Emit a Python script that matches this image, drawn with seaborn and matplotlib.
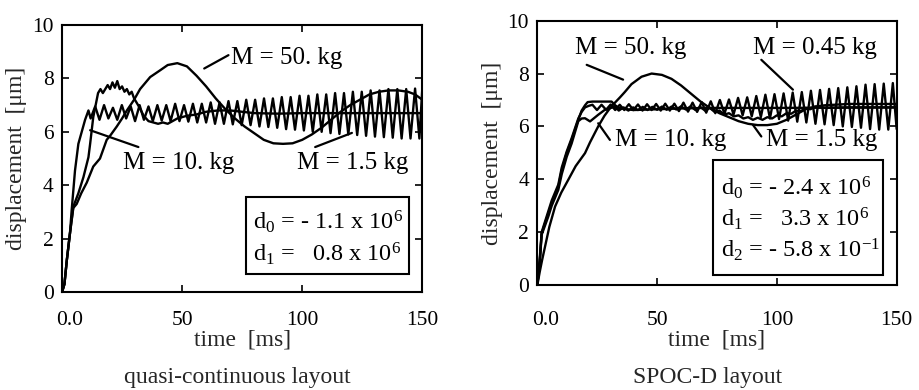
import matplotlib
matplotlib.use("Agg")
import matplotlib.pyplot as plt
import seaborn as sns
import pandas as pd
from matplotlib.patches import Rectangle
from matplotlib.transforms import ScaledTranslation

sns.set_style("ticks")
plt.rcParams['font.family'] = ['Liberation Serif', 'DejaVu Serif']
plt.rcParams['mathtext.fontset'] = 'custom'
plt.rcParams['mathtext.rm'] = 'Liberation Serif'
plt.rcParams['mathtext.it'] = 'Liberation Serif:italic'

# ---- quasi-continuous layout (left panel) ----
t_50_l = [0, 1, 2, 3.3, 4.7, 6.1, 8, 10.3, 13, 15.8, 18.6, 20, 22.8, 25, 27, 30, 32.5, 36.7, 40.8,
          44, 48, 52, 56, 60, 64, 68, 72, 76, 80, 84, 88, 92, 96, 100, 104, 108, 112, 116, 120,
          124, 128, 132, 136, 140, 144, 147, 150]
d_50_l = [0, 0.3, 1.2, 2.2, 3.15, 3.3, 3.7, 4.1, 4.7, 5.0, 5.7, 5.85, 6.2, 6.5, 6.8, 7.2, 7.6, 8.05, 8.3,
          8.5, 8.57, 8.45, 8.1, 7.7, 7.25, 6.85, 6.5, 6.2, 5.95, 5.7, 5.57, 5.55, 5.57, 5.7, 5.9, 6.15, 6.45,
          6.75, 7.0, 7.2, 7.4, 7.5, 7.55, 7.55, 7.5, 7.4, 7.2]

t_10_l = [0, 1, 2, 3.3, 4.7, 6.8, 8.9, 11, 11.7, 13, 14, 15, 16, 17, 18, 19, 20, 21, 22, 23, 24, 25,
          26, 27, 28, 29, 30, 32, 34, 36, 38, 40, 42, 44, 46, 48, 52, 56, 60, 65, 70, 75, 80, 90, 100,
          110, 120, 130, 140, 150]
d_10_l = [0, 0.3, 1.2, 2.2, 3.2, 3.7, 4.3, 5.05, 5.55, 6.55, 7.0, 7.45, 7.6, 7.45, 7.6, 7.75, 7.6, 7.85,
          7.65, 7.9, 7.6, 7.7, 7.5, 7.6, 7.4, 7.5, 7.25, 6.95, 6.6, 6.4, 6.35, 6.3, 6.35, 6.3, 6.4, 6.5,
          6.6, 6.65, 6.75, 6.8, 6.8, 6.75, 6.7, 6.68, 6.7, 6.7, 6.7, 6.7, 6.7, 6.7]

t_15_l = [0, 1, 2, 3.3, 4, 5.4, 6.8, 8.2, 9.6, 11.0,
          11.9, 13.8, 15.6, 17.5, 19.3, 21.2, 23.0, 24.9, 26.7, 28.6, 30.4, 32.3, 34.1, 36.0, 37.8,
          39.7, 41.5, 43.4, 45.2, 47.1, 48.9, 50.8, 52.6, 54.5, 56.3, 58.2, 60.0, 61.9, 63.7, 65.6,
          67.4, 69.3, 71.1, 73.0, 74.8, 76.7, 78.5, 80.4, 82.2, 84.1, 85.9, 87.8, 89.6, 91.5, 93.3,
          95.2, 97.0, 98.9, 100.7, 102.6, 104.4, 106.3, 108.1, 110.0, 111.8, 113.7, 115.5, 117.4,
          119.2, 121.1, 122.9, 124.8, 126.6, 128.5, 130.3, 132.2, 134.0, 135.9, 137.7, 139.6, 141.4,
          143.3, 145.1, 147.0, 148.8, 150.0]
d_15_l = [0, 0.3, 1.2, 2.2, 3.05, 4.55, 5.55, 6.0, 6.45, 6.8,
          6.5, 6.95, 6.45, 7.0, 6.5, 6.9, 6.45, 7.0, 6.5, 6.95, 6.4, 7.0, 6.45, 6.95, 6.4, 7.0, 6.42,
          7.0, 6.4, 7.05, 6.4, 7.0, 6.38, 7.05, 6.35, 7.05, 6.35, 7.1, 6.3, 7.1, 6.3, 7.15, 6.28, 7.15,
          6.25, 7.2, 6.25, 7.2, 6.2, 7.25, 6.18, 7.25, 6.15, 7.3, 6.1, 7.3, 6.08, 7.35, 6.05, 7.35,
          6.0, 7.4, 6.0, 7.4, 5.95, 7.45, 5.92, 7.45, 5.9, 7.5, 5.88, 7.5, 5.85, 7.55, 5.82, 7.55,
          5.8, 7.6, 5.78, 7.6, 5.75, 7.6, 5.75, 7.62, 5.75, 7.6]

# ---- SPOC-D layout (right panel) ----
t_50_r = [0, 1, 2, 3.2, 5, 7.4, 10, 12.9, 16, 19.9, 22, 25.4, 28, 30, 32.4, 34.5, 36.5, 39.3, 43.5,
          47.7, 52, 56, 60, 64, 68, 72, 76, 80, 84, 88, 92, 96, 100, 104, 108, 112, 116, 120, 130,
          140, 150]
d_50_r = [0, 0.5, 0.95, 1.45, 2.2, 2.97, 3.5, 3.98, 4.5, 4.99, 5.4, 6.0, 6.4, 6.65, 6.9, 7.1, 7.3,
          7.6, 7.88, 8.0, 7.95, 7.8, 7.55, 7.25, 6.95, 6.7, 6.5, 6.35, 6.2, 6.1, 6.05, 6.05, 6.1, 6.25,
          6.45, 6.65, 6.75, 6.8, 6.85, 6.85, 6.85]

t_10_r = [0, 1, 1.8, 4.6, 6, 8.75, 10.2, 12.25, 14.3, 17.1, 18.5, 19.9, 21, 23, 31, 32.5, 34, 40,
          50, 60, 70, 80, 100, 150]
d_10_r = [0, 0.9, 1.96, 2.72, 3.1, 3.72, 4.36, 4.99, 5.49, 6.25, 6.6, 6.8, 6.92, 6.94, 6.94, 6.8,
          6.7, 6.62, 6.65, 6.68, 6.7, 6.7, 6.7, 6.72]

t_15_r = [0, 1, 1.8, 4.6, 6, 8.75, 10.2, 12.25, 14.3, 17.1, 18.5, 19.9, 22, 25.4, 28.2, 32.4, 34,
          36, 38, 40, 42, 44, 46, 48, 50, 52, 54, 56, 58, 60, 62, 64, 66, 68, 70, 72, 74, 76, 78,
          80, 82, 84, 86, 88, 90, 92, 94, 96, 98, 100, 102, 104, 106, 108, 110, 112, 114, 116, 120,
          130, 140, 150]
d_15_r = [0, 0.85, 1.9, 2.6, 3.0, 3.6, 4.2, 4.85, 5.35, 6.2, 6.3, 6.31, 6.19, 6.44, 6.63, 6.75, 6.6,
          6.72, 6.6, 6.72, 6.62, 6.74, 6.62, 6.74, 6.63, 6.75, 6.63, 6.75, 6.64, 6.76, 6.64, 6.76,
          6.62, 6.74, 6.6, 6.7, 6.55, 6.6, 6.45, 6.5, 6.38, 6.42, 6.3, 6.35, 6.25, 6.33, 6.25, 6.35,
          6.3, 6.42, 6.38, 6.5, 6.48, 6.6, 6.58, 6.7, 6.65, 6.75, 6.7, 6.72, 6.72, 6.72]

t_045_r = [0, 1, 1.8, 4.6, 6, 8.75, 10.2, 12.25, 14.3, 17.1, 18.5, 19.9, 21.5,
           23.0, 24.9, 26.8, 28.7, 30.6, 32.5, 34.4, 36.3, 38.2, 40.1, 42.0, 43.9, 45.8, 47.7, 49.6,
           51.5, 53.4, 55.3, 57.2, 59.1, 61.0, 62.9, 64.8, 66.7, 68.6, 70.5, 72.4, 74.3, 76.2, 78.1,
           80.0, 81.9, 83.8, 85.7, 87.6, 89.5, 91.4, 93.3, 95.2, 97.1, 99.0, 100.9, 102.8, 104.7,
           106.6, 108.5, 110.4, 112.3, 114.2, 116.1, 118.0, 119.9, 121.8, 123.7, 125.6, 127.5,
           129.4, 131.3, 133.2, 135.1, 137.0, 138.9, 140.8, 142.7, 144.6, 146.5, 148.4, 150.0]
d_045_r = [0, 1.0, 2.0, 2.8, 3.2, 3.8, 4.45, 5.05, 5.55, 6.3, 6.55, 6.72, 6.78,
           6.82, 6.62, 6.82, 6.63, 6.83, 6.62, 6.82, 6.62, 6.84, 6.62, 6.83, 6.6, 6.84, 6.62, 6.85,
           6.6, 6.86, 6.6, 6.86, 6.58, 6.9, 6.56, 6.9, 6.55, 6.92, 6.52, 6.95, 6.5, 7.0, 6.48, 7.02,
           6.45, 7.08, 6.42, 7.1, 6.38, 7.15, 6.35, 7.2, 6.3, 7.22, 6.28, 7.25, 6.22, 7.28, 6.18,
           7.3, 6.15, 7.35, 6.1, 7.38, 6.08, 7.42, 6.05, 7.45, 6.0, 7.48, 5.98, 7.52, 5.95, 7.58,
           5.9, 7.6, 5.88, 7.62, 5.88, 7.64, 5.9]

x_ticks = [0, 50, 100, 150]
x_tick_labels = ["0.0", "50", "100", "150"]
y_ticks = [0, 2, 4, 6, 8, 10]

fig = plt.figure(figsize=(9.19, 3.9), dpi=100)
ax1 = fig.add_axes([0.0675, 0.251, 0.392, 0.685])
ax2 = fig.add_axes([0.5847, 0.269, 0.391, 0.678])

left_curves = [(t_50_l, d_50_l), (t_10_l, d_10_l), (t_15_l, d_15_l)]
right_curves = [(t_50_r, d_50_r), (t_10_r, d_10_r), (t_15_r, d_15_r), (t_045_r, d_045_r)]

for ax, curves, xpad in [(ax1, left_curves, 13.5), (ax2, right_curves, 18.5)]:
    for t, d in curves:
        df = pd.DataFrame({"t": t, "d": d})
        sns.lineplot(data=df, x="t", y="d", ax=ax, color="black", lw=1.7,
                     sort=False, estimator=None)
    ax.set_xlim(0, 150)
    ax.set_ylim(0, 10)
    ax.set_xticks(x_ticks)
    ax.set_xticklabels(x_tick_labels)
    ax.set_yticks(y_ticks)
    ax.tick_params(direction="in", top=True, right=True, length=5, width=1.2,
                   labelsize=15.5, colors="black")
    ax.tick_params(axis="x", pad=xpad)
    ax.tick_params(axis="y", pad=6)
    for sp in ax.spines.values():
        sp.set_linewidth(1.5)
        sp.set_color("black")
    ax.set_xlabel("time  [ms]", fontsize=17, va="top")
    ax.set_ylabel("displacement  [μm]", fontsize=17)
    # the "0.0" label sits a little right of its tick
    first = ax.xaxis.get_major_ticks()[0].label1
    first.set_transform(first.get_transform() + ScaledTranslation(0.08, 0, fig.dpi_scale_trans))

ax1.xaxis.set_label_coords(0.5, -0.14)
ax2.xaxis.set_label_coords(0.5, -0.168)
ax1.yaxis.set_label_coords(-0.097, 0.5)
ax2.yaxis.set_label_coords(-0.095, 0.5)

ann = dict(fontsize=18, color="black")
box = dict(fontsize=17.5, color="black")
line = dict(arrowstyle="-", lw=1.6, color="black", shrinkA=0, shrinkB=0)

# left annotations
ax1.annotate("", xy=(59.2, 8.37), xytext=(69.3, 8.87), arrowprops=line)
ax1.text(70.5, 8.75, "M = 50. kg", va="center", **ann)
ax1.annotate("", xy=(11.7, 6.06), xytext=(31.8, 5.43), arrowprops=line)
ax1.text(25.5, 4.82, "M = 10. kg", va="center", **ann)
ax1.annotate("", xy=(120.7, 5.96), xytext=(105.4, 5.43), arrowprops=line)
ax1.text(97.8, 4.82, "M = 1.5 kg", va="center", **ann)
ax1.add_patch(Rectangle((76.7, 0.69), 67.6, 2.87, fill=False, lw=1.5, ec="black"))
ax1.text(79.5, 2.62, r"d$_0$ = - 1.1 x 10$^6$", va="center", **box)
ax1.text(79.5, 1.44, r"d$_1$ =   0.8 x 10$^6$", va="center", **box)

# right annotations
ax2.annotate("", xy=(35.8, 7.77), xytext=(20.6, 8.33), arrowprops=line)
ax2.text(15.7, 8.97, "M = 50. kg", va="center", **ann)
ax2.annotate("", xy=(106.7, 7.39), xytext=(93.5, 8.52), arrowprops=line)
ax2.text(90, 8.97, "M = 0.45 kg", va="center", **ann)
ax2.annotate("", xy=(25.4, 6.12), xytext=(30.3, 5.49), arrowprops=line)
ax2.text(32.4, 5.49, "M = 10. kg", va="center", **ann)
ax2.annotate("", xy=(90, 6.06), xytext=(93.5, 5.62), arrowprops=line)
ax2.text(95.6, 5.49, "M = 1.5 kg", va="center", **ann)
ax2.add_patch(Rectangle((73.2, 0.38), 71.2, 4.35, fill=False, lw=1.5, ec="black"))
ax2.text(76.5, 3.67, r"d$_0$ = - 2.4 x 10$^6$", va="center", **box)
ax2.text(76.5, 2.5, r"d$_1$ =   3.3 x 10$^6$", va="center", **box)
ax2.text(76.5, 1.33, r"d$_2$ = - 5.8 x 10$^{-1}$", va="center", **box)

fig.text(0.258, 0.033, "quasi-continuous layout", ha="center", va="center", fontsize=17)
fig.text(0.770, 0.033, "SPOC-D layout", ha="center", va="center", fontsize=17)

fig.savefig("out.png", dpi=100)
